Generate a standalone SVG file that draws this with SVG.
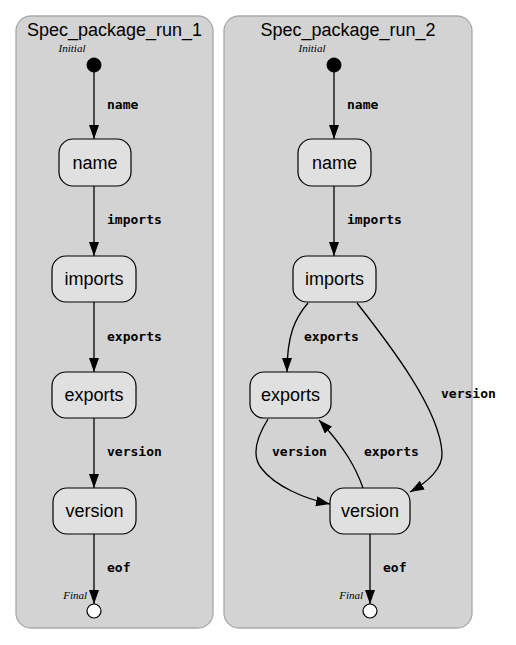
<svg xmlns="http://www.w3.org/2000/svg" width="516" height="645" viewBox="0 0 516 645">
<defs>
<style>
.cl{fill:#d3d3d3;stroke:#a9a9a9;stroke-width:1.3}
.ct{font-family:"Liberation Sans",Arial,sans-serif;font-size:18px;fill:#000;text-anchor:middle}
.nd{fill:#e0e0e0;stroke:#000;stroke-width:1.2}
.nt{font-family:"Liberation Sans",Arial,sans-serif;font-size:18px;fill:#000;text-anchor:middle}
.el{font-family:"DejaVu Sans Mono","Liberation Mono",monospace;font-size:13px;font-weight:bold;fill:#000}
.it{font-family:"Liberation Serif","Times New Roman",serif;font-style:italic;font-size:11px;fill:#000}
.e{fill:none;stroke:#000;stroke-width:1.3;marker-end:url(#ah)}
</style>
<marker id="ah" markerUnits="userSpaceOnUse" markerWidth="15" markerHeight="11" refX="14" refY="5" orient="auto">
<path d="M0,0 L14,5 L0,10 z" fill="#000"/>
</marker>
</defs>
<rect width="516" height="645" fill="#fff"/>
<g id="cluster1">
<rect class="cl" x="16" y="16" width="197" height="612" rx="15"/>
<text class="ct" x="114.5" y="36">Spec_package_run_1</text>
</g>
<g id="cluster2">
<rect class="cl" x="224" y="16" width="248" height="612" rx="15"/>
<text class="ct" x="348" y="36">Spec_package_run_2</text>
</g>
<g id="connectors">
<path class="e" d="M94,72 L94,139"/>
<path class="e" d="M94,186 L94,256"/>
<path class="e" d="M94,302 L94,372"/>
<path class="e" d="M94,418 L94,488"/>
<path class="e" d="M94,534 L94,604"/>
<path class="e" d="M334,72 L334,139"/>
<path class="e" d="M334,186 L334,256"/>
<path class="e" d="M308,303 C295,318 287,335 287,372"/>
<path class="e" d="M357,303 C390,345 440,410 442,453 C443,468 428,482 410,492"/>
<path class="e" d="M268,419 C258,435 250,455 262,469 C275,486 305,499 330,504"/>
<path class="e" d="M363,488 C356,468 345,448 319,420"/>
<path class="e" d="M370,534 L370,604"/>
<text class="el" x="107" y="109">name</text>
<text class="el" x="107" y="224">imports</text>
<text class="el" x="107" y="341">exports</text>
<text class="el" x="107" y="456">version</text>
<text class="el" x="107" y="572">eof</text>
<text class="el" x="347" y="109">name</text>
<text class="el" x="347" y="224">imports</text>
<text class="el" x="304" y="341">exports</text>
<text class="el" x="441" y="398">version</text>
<text class="el" x="272" y="456">version</text>
<text class="el" x="364" y="456">exports</text>
<text class="el" x="383" y="572">eof</text>
</g>
<g id="initial1">
<circle cx="94" cy="65" r="7" fill="#000" stroke="#000"/>
<text class="it" x="72" y="52" text-anchor="middle">Initial</text>
</g>
<g id="name1"><rect class="nd" x="59" y="139" width="72" height="47" rx="14"/><text class="nt" x="95" y="169">name</text></g>
<g id="imports1"><rect class="nd" x="52" y="256" width="84" height="46" rx="14"/><text class="nt" x="94" y="285">imports</text></g>
<g id="exports1"><rect class="nd" x="52" y="372" width="84" height="46" rx="14"/><text class="nt" x="94" y="401">exports</text></g>
<g id="version1"><rect class="nd" x="53" y="488" width="83" height="46" rx="14"/><text class="nt" x="94.5" y="517">version</text></g>
<g id="final1">
<circle cx="94" cy="611" r="7" fill="#fff" stroke="#000" stroke-width="1.2"/>
<text class="it" x="87" y="599" text-anchor="end">Final</text>
</g>
<g id="initial2">
<circle cx="334" cy="65" r="7" fill="#000" stroke="#000"/>
<text class="it" x="312" y="52" text-anchor="middle">Initial</text>
</g>
<g id="name2"><rect class="nd" x="298" y="139" width="73" height="47" rx="14"/><text class="nt" x="334.5" y="169">name</text></g>
<g id="imports2"><rect class="nd" x="293" y="256" width="83" height="46" rx="14"/><text class="nt" x="334.5" y="285">imports</text></g>
<g id="exports2"><rect class="nd" x="250" y="372" width="81" height="46" rx="14"/><text class="nt" x="290.5" y="401">exports</text></g>
<g id="version2"><rect class="nd" x="330" y="488" width="80" height="46" rx="14"/><text class="nt" x="370" y="517">version</text></g>
<g id="final2">
<circle cx="370" cy="611" r="7" fill="#fff" stroke="#000" stroke-width="1.2"/>
<text class="it" x="363" y="599" text-anchor="end">Final</text>
</g>
</svg>
